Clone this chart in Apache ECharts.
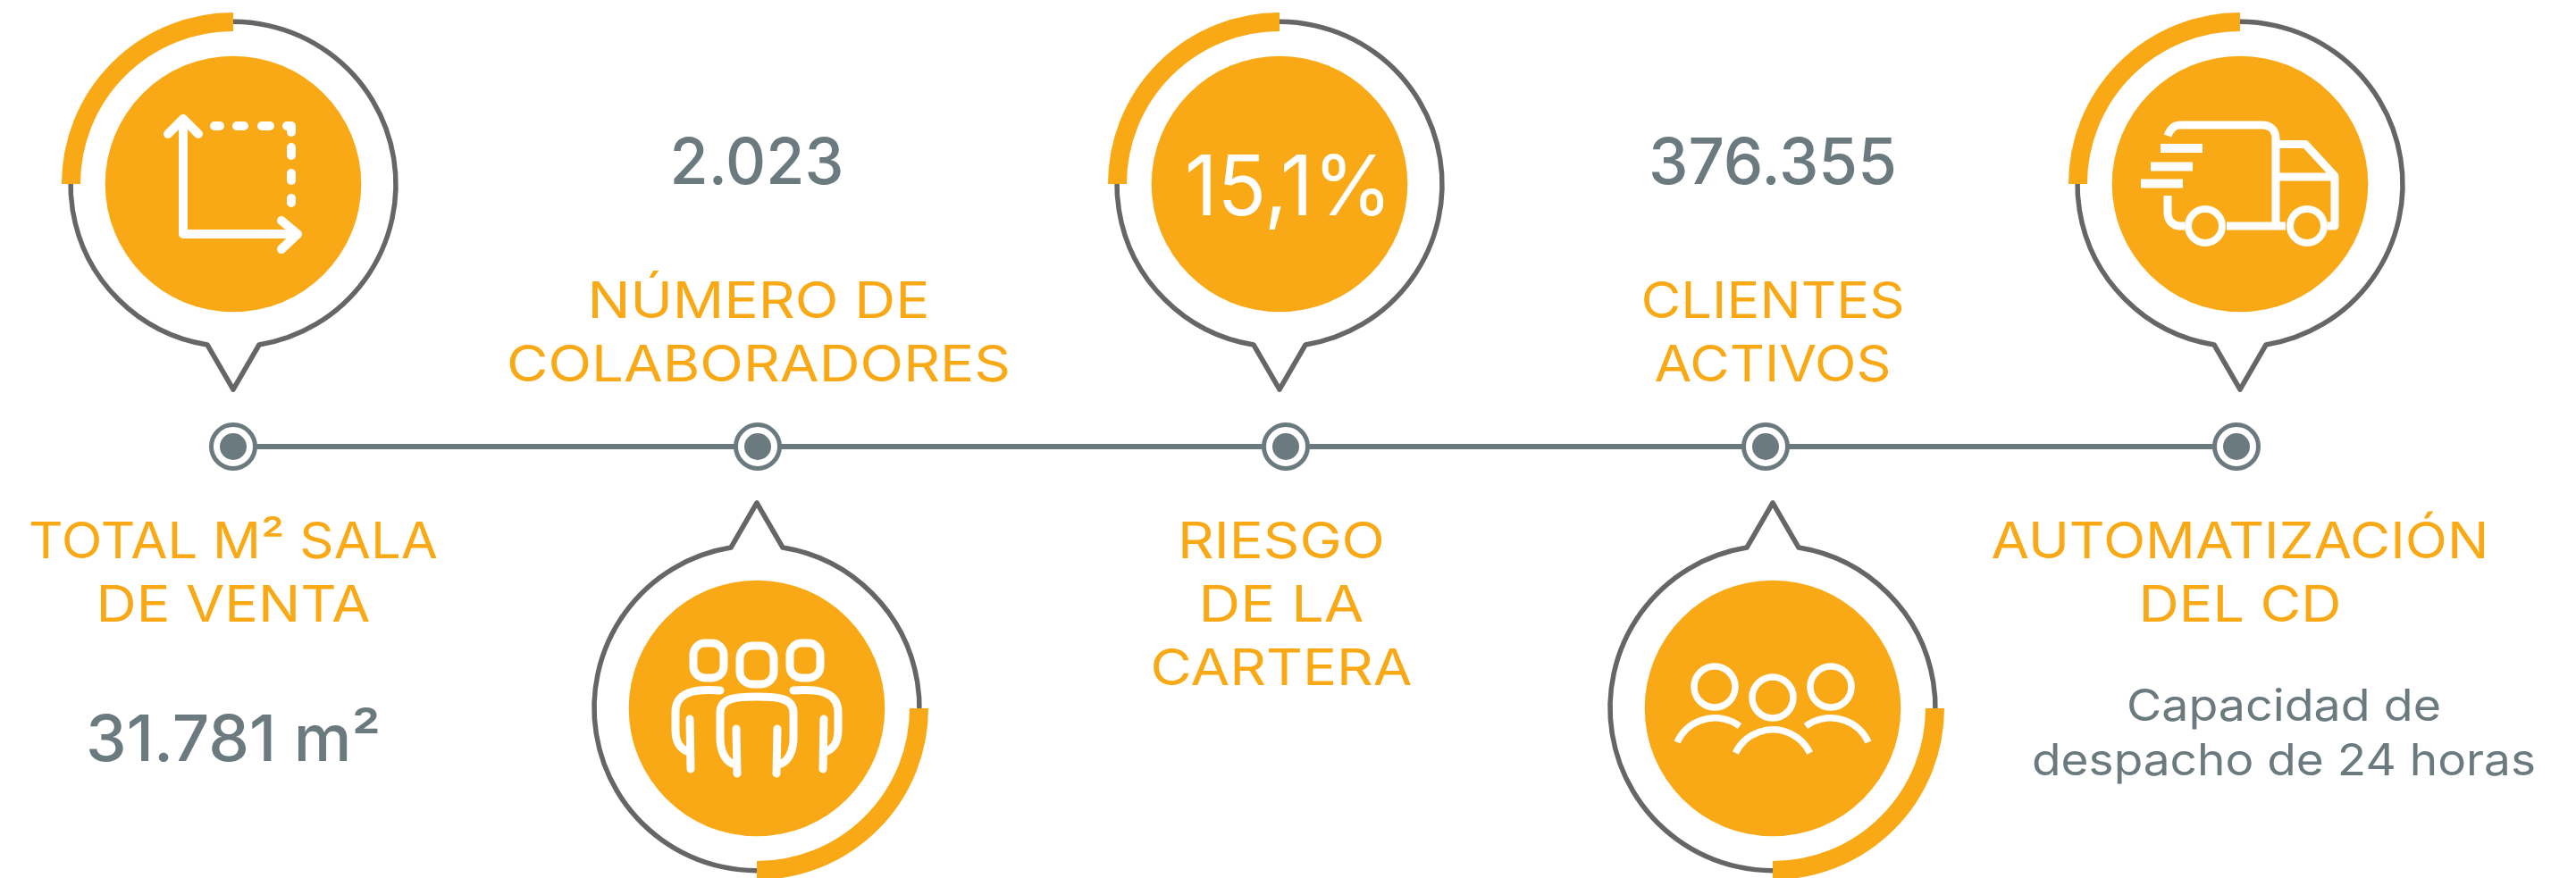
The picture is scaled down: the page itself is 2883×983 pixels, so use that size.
<!DOCTYPE html>
<html>
<head>
<meta charset="utf-8">
<title>Indicadores</title>
<style>
  html, body { margin: 0; padding: 0; background: #fff; }
  #chart { width: 2883px; height: 983px; }
</style>
<script src="https://cdn.jsdelivr.net/npm/echarts@6/dist/echarts.min.js"></script>
</head>
<body>
<div id="chart"></div>
<script>
const titles = [
  ['TOTAL M² SALA', 'DE VENTA'],
  ['NÚMERO DE', 'COLABORADORES'],
  ['RIESGO', 'DE LA', 'CARTERA'],
  ['CLIENTES', 'ACTIVOS'],
  ['AUTOMATIZACIÓN', 'DEL CD']
];
const figures = ['31.781 m²', '2.023', '15,1%', '376.355'];
const notes = ['Capacidad de', 'despacho de 24 horas'];
const milestoneX = [261, 848, 1439, 1976, 2503];

// layout, in axis units (the axes map 1:1 to the page)
const ORANGE = '#f9a916', SLATE = '#6b7a7f', RING = '#666666';
const LINE_Y = 500;
const pins = [[261, 206, 1], [847, 793, -1], [1432, 206, 1], [1984, 793, -1], [2507, 206, 1]];
const titleAnchor = [[261, 625], [849, 355.7], [1434, 625], [1984, 355.7], [2507, 625]];
const titleWidth = [[458, 307], [383, 564], [232, 185, 293], [295, 265], [557, 227]];
const figureAnchor = [[261, 851.7], [847, 206], [1442, 240], [1984, 206]];
const figureWidth = [330, 195, 232, 278];
const noteAnchor = [[2556, 807], [2556, 868]];
const noteWidth = [352, 564];
const FONT = 'Inter, sans-serif';

// every text line as one row: x, baseline y, text, size, colour, weight, drawn width
const textRows = [];
titles.forEach((lines, i) => lines.forEach((t, j) => {
  textRows.push([titleAnchor[i][0], titleAnchor[i][1] + j * 70.8, t, 56, ORANGE, 400, titleWidth[i][j]]);
}));
figures.forEach((t, i) => {
  if (i === 2) textRows.push([figureAnchor[i][0], figureAnchor[i][1], t, 93, '#fff', 400, figureWidth[i]]);
  else textRows.push([figureAnchor[i][0], figureAnchor[i][1], t, 71, SLATE, 500, figureWidth[i]]);
});
notes.forEach((t, i) => textRows.push([noteAnchor[i][0], noteAnchor[i][1], t, 49, SLATE, 400, noteWidth[i]]));

const measureCtx = document.createElement('canvas').getContext('2d');
function fontOf(row) {
  return row[5] + ' ' + row[3] + 'px ' + FONT;
}
// Montserrat is not installed, so Inter is stretched to the width of each line
function stretchOf(row) {
  measureCtx.font = fontOf(row);
  return row[6] / measureCtx.measureText(row[2]).width;
}

// icon stroke drawn from an svg path around the pin centre
function stroke(d, c, width, cap) {
  return {
    type: 'path',
    shape: { pathData: 'M-300 -300M300 300' + d, x: c[0] - 300, y: c[1] - 300, width: 600, height: 600, layout: 'cover' },
    style: { fill: 'none', stroke: '#fff', lineWidth: width, lineCap: cap || 'round', lineJoin: 'round' }
  };
}
function ringShape(c, r, width) {
  return { type: 'circle', shape: { cx: c[0], cy: c[1], r: r }, style: { fill: 'none', stroke: '#fff', lineWidth: width } };
}
function headBox(c, x, y, w, h, r) {
  return { type: 'rect', shape: { x: c[0] + x, y: c[1] + y, width: w, height: h, r: r }, style: { fill: 'none', stroke: '#fff', lineWidth: 9 } };
}

const icons = [
  c => [
    stroke('M-56 -73L-56 56L72 56M-73 -56L-56 -73L-39 -56M54 41L72 56L54 73', c, 10),
    stroke('M-21 -65L-15 -65M4 -65L12 -65M32 -65L41 -65M60 -65L65 -65L65 -58M65 -41L65 -32M65 -12L65 -4M65 16L65 21', c, 10)
  ],
  c => [
    headBox(c, -71, -73, 34, 39, 13), headBox(c, -19, -70, 38, 43, 14), headBox(c, 37, -73, 34, 39, 13),
    stroke('M-41 -20C-55 -21 -91 -24 -91 4L-91 24C-91 40 -85 46 -76 49M-75 12L-74 68', c, 9),
    stroke('M41 -20C55 -21 91 -24 91 4L91 24C91 40 85 46 76 49M75 12L74 68', c, 9),
    stroke('M-27 62C-37 58 -41 45 -41 33L-41 5C-41 -12 -22 -13 0 -13C22 -13 41 -12 41 5L41 33C41 45 37 58 27 62M-23 23L-22 73M23 23L22 73', c, 9)
  ],
  c => [],
  c => [
    ringShape([c[0] - 65, c[1] - 24], 23, 7.5), ringShape([c[0], c[1] - 12], 23, 7.5), ringShape([c[0] + 65, c[1] - 24], 23, 7.5),
    stroke('M-41.7 50A46.4 46.4 0 0 1 41.7 50M-107 38A46.4 46.4 0 0 1 -37 20M107 38A46.4 46.4 0 0 0 37 20', c, 7.5, 'butt')
  ],
  c => [
    stroke('M-81 -54C-78 -62 -74 -66 -67 -66L25 -66C34 -66 40 -60 40 -51L40 47M40 -44.6L73 -44.6L106 -9L106 47L98 47M40 -8L106 -8M-15 47L51 47M-81 13L-81 32C-81 41 -75 47 -67 47L-62 47', c, 9, 'butt'),
    stroke('M-89 -40L-42 -40M-100 -19.5L-53 -19.5M-111 -0.5L-64 -0.5', c, 10, 'butt'),
    ringShape([c[0] - 39, c[1] + 47], 19, 8), ringShape([c[0] + 75, c[1] + 47], 19, 8)
  ]
];

function renderPin(params, api) {
  const c = api.coord([api.value(0), api.value(1)]);
  const s = api.value(2);
  const start = s > 0 ? Math.PI : 0;
  const outline = 'M' + 29 * s + ' ' + 180 * s + 'A182 182 0 1 0 ' + (-29 * s) + ' ' + 180 * s + 'L0 ' + 230 * s + 'Z';
  const ring = stroke(outline, c, 5.5);
  ring.style.stroke = RING;
  return {
    type: 'group',
    children: [
      ring,
      { type: 'arc', shape: { cx: c[0], cy: c[1], r: 181.5, startAngle: start, endAngle: start + Math.PI / 2, clockwise: true },
        style: { fill: 'none', stroke: ORANGE, lineWidth: 21, lineCap: 'butt' } },
      { type: 'circle', shape: { cx: c[0], cy: c[1], r: 143.3 }, style: { fill: ORANGE } }
    ].concat(icons[params.dataIndex](c))
  };
}

function renderText(params, api) {
  const row = textRows[params.dataIndex];
  const p = api.coord([row[0], row[1]]);
  return {
    type: 'text',
    x: p[0],
    y: p[1] - row[3] * 0.295,
    scaleX: stretchOf(row),
    style: {
      text: row[2],
      fill: row[4],
      font: fontOf(row),
      align: 'center',
      verticalAlign: 'middle'
    }
  };
}

const chart = echarts.init(document.getElementById('chart'));
chart.setOption({
  animation: false,
  backgroundColor: '#fff',
  grid: { left: 0, right: 0, top: 0, bottom: 0 },
  xAxis: { type: 'value', min: 0, max: 2883, show: false },
  yAxis: { type: 'value', min: 0, max: 983, inverse: true, show: false },
  series: [
    {
      type: 'line',
      silent: true,
      data: milestoneX.map(x => [x, LINE_Y]),
      lineStyle: { color: SLATE, width: 6 },
      symbol: 'circle',
      symbolSize: 49,
      showAllSymbol: true,
      itemStyle: { color: '#fff', borderColor: SLATE, borderWidth: 5 }
    },
    {
      type: 'scatter',
      silent: true,
      z: 5,
      data: milestoneX.map(x => [x, LINE_Y]),
      symbolSize: 30,
      itemStyle: { color: SLATE, opacity: 1 }
    },
    { type: 'custom', silent: true, clip: false, z: 6, data: pins, renderItem: renderPin },
    { type: 'custom', silent: true, clip: false, z: 7, data: textRows.map(r => [r[0], r[1]]), renderItem: renderText }
  ]
});
window.addEventListener('resize', () => chart.resize());
</script>
</body>
</html>
